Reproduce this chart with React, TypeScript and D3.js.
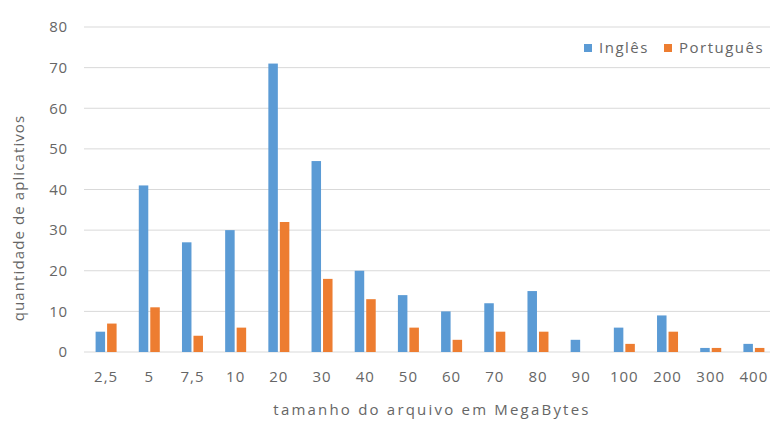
import React from "react";
import * as d3 from "d3";

const categories = ["2,5", "5", "7,5", "10", "20", "30", "40", "50", "60", "70", "80", "90", "100", "200", "300", "400"];
const ingles = [5, 41, 27, 30, 71, 47, 20, 14, 10, 12, 15, 3, 6, 9, 1, 2];
const portugues = [7, 11, 4, 6, 32, 18, 13, 6, 3, 5, 5, 0, 2, 5, 1, 1];
const yTicks = [0, 10, 20, 30, 40, 50, 60, 70, 80];
const seriesNames = ["Inglês", "Português"];
const colors = ["#5B9BD5", "#ED7D31"];

const W = 770;
const H = 421;
const FONT = "'Open Sans', 'Liberation Sans', sans-serif";
const TXT = "#666666";

export default function App() {
  const x = d3.scaleBand<string>().domain(categories).range([84.5, 775.5]).paddingInner(0).paddingOuter(0);
  const y = d3.scaleLinear().domain([0, 80]).range([352, 27]);
  const barW = 9.5;
  const gap = 2;
  const series = [ingles, portugues];

  return (
    <svg width={W} height={H} style={{ position: "absolute", left: 0, top: 0, background: "#fff" }}>
      <rect x={0} y={0} width={W} height={H} fill="#fff" />
      {yTicks.map((t) => (
        <g key={t}>
          <line x1={84} x2={W} y1={y(t)} y2={y(t)} stroke="#d9d9d9" strokeWidth={1} />
          <text x={68} y={y(t)} dy="0.35em" textAnchor="end" fontFamily={FONT} fontSize={15} letterSpacing={0.8} fill={TXT}>
            {t}
          </text>
        </g>
      ))}
      {series.map((vals, si) =>
        categories.map((c, i) => {
          const cx = (x(c) as number) + x.bandwidth() / 2;
          const bx = si === 0 ? cx - gap / 2 - barW : cx + gap / 2;
          const v = vals[i];
          if (v <= 0) return null;
          return (
            <rect key={`${si}-${c}`} x={bx} y={y(v)} width={barW} height={y(0) - y(v)} fill={colors[si]} />
          );
        })
      )}
      {categories.map((c) => (
        <text
          key={c}
          x={(x(c) as number) + x.bandwidth() / 2}
          y={377}
          dy="0.35em"
          textAnchor="middle"
          fontFamily={FONT}
          fontSize={15}
          letterSpacing={1}
          fill={TXT}
        >
          {c}
        </text>
      ))}
      <text
        x={432}
        y={410}
        dy="0.35em"
        textAnchor="middle"
        fontFamily={FONT}
        fontSize={15}
        letterSpacing={2.2}
        fill={TXT}
      >
        tamanho do arquivo em MegaBytes
      </text>
      <text
        transform={`translate(19,218) rotate(-90)`}
        textAnchor="middle"
        dy="0.35em"
        fontFamily={FONT}
        fontSize={15}
        letterSpacing={1.1}
        fill={TXT}
      >
        quantidade de aplicativos
      </text>
      {seriesNames.map((n, i) => {
        const lx = [584, 664][i];
        return (
          <g key={n}>
            <rect x={lx} y={44} width={8} height={8} fill={colors[i]} />
            <text x={lx + 15} y={48} dy="0.35em" fontFamily={FONT} fontSize={15} letterSpacing={1.5} fill={TXT}>
              {n}
            </text>
          </g>
        );
      })}
    </svg>
  );
}
